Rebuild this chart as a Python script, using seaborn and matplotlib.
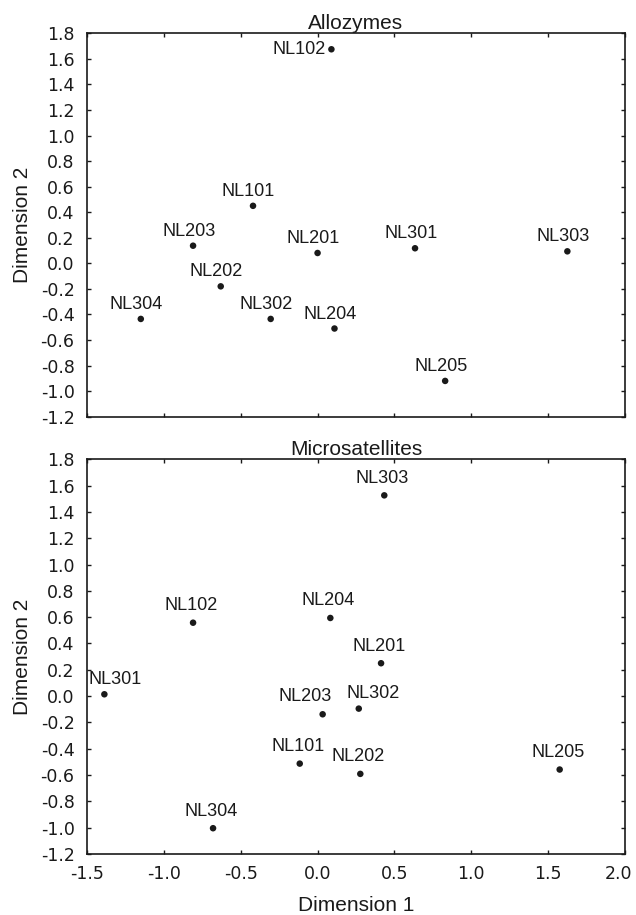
import matplotlib
matplotlib.use("Agg")
import matplotlib.pyplot as plt
import matplotlib.transforms as mtransforms
import seaborn as sns
import pandas as pd

# ---- data ----
allo_labels = ["NL102", "NL101", "NL203", "NL202", "NL304", "NL302",
               "NL201", "NL204", "NL301", "NL303", "NL205"]
allo_dim1 = [0.09, -0.42, -0.81, -0.63, -1.15, -0.305, 0.0, 0.11, 0.634, 1.625, 0.83]
allo_dim2 = [1.675, 0.45, 0.138, -0.18, -0.435, -0.435, 0.081, -0.51, 0.118, 0.094, -0.92]

micro_labels = ["NL303", "NL204", "NL201", "NL102", "NL301", "NL304",
                "NL101", "NL203", "NL302", "NL202", "NL205"]
micro_dim1 = [0.434, 0.083, 0.413, -0.81, -1.387, -0.68, -0.116, 0.033, 0.268, 0.278, 1.575]
micro_dim2 = [1.526, 0.594, 0.25, 0.558, 0.014, -1.004, -0.513, -0.138, -0.095, -0.591, -0.558]

x_ticks = [-1.5, -1.0, -0.5, 0.0, 0.5, 1.0, 1.5, 2.0]
y_ticks = [-1.2, -1.0, -0.8, -0.6, -0.4, -0.2, 0.0, 0.2, 0.4, 0.6, 0.8, 1.0, 1.2, 1.4, 1.6, 1.8]
titles = ["Allozymes", "Microsatellites"]

# label placement (pixel offsets from point), default + exceptions
default_off = [(-4.4, 14.4), (-2.0, 17.0)]
special_off = [
    {"NL102": (-6, 0, "right")},
    {"NL301": (11, 14.3, "center"), "NL203": (-17.7, 17.6, "center"),
     "NL302": (14, 14.7, "center")},
]

sns.set_style("ticks")
plt.rcParams["font.family"] = ["Liberation Sans", "DejaVu Sans"]

fig = plt.figure(figsize=(6.36, 9.15), dpi=100)
W, H = 636, 915
L, R = 87, 625
ax1 = fig.add_axes([L / W, 1 - 416.7 / H, (R - L) / W, (416.7 - 33.3) / H])
ax2 = fig.add_axes([L / W, 1 - 854 / H, (R - L) / W, (854 - 459.3) / H])

dfs = [pd.DataFrame({"d1": allo_dim1, "d2": allo_dim2, "lab": allo_labels}),
       pd.DataFrame({"d1": micro_dim1, "d2": micro_dim2, "lab": micro_labels})]

ink = "#1a1a1a"
for i, (ax, df) in enumerate(zip([ax1, ax2], dfs)):
    sns.scatterplot(data=df, x="d1", y="d2", ax=ax, color=ink, s=22,
                    edgecolor="none", linewidth=0, zorder=3)
    for _, row in df.iterrows():
        if row.lab in special_off[i]:
            dx, dy, ha = special_off[i][row.lab]
        else:
            dx, dy = default_off[i]
            ha = "center"
        ax.annotate(row.lab, (row.d1, row.d2), xytext=(dx, dy),
                    textcoords="offset pixels", ha=ha, va="center",
                    fontsize=13, color=ink)
    ax.set_xlim(-1.5, 2.0)
    ax.set_ylim(-1.2, 1.8)
    ax.set_xticks(x_ticks)
    ax.set_yticks(y_ticks)
    ax.set_yticklabels([f"{v:.1f}" for v in y_ticks], fontsize=12.5,
                       family=["DejaVu Sans"])
    ax.tick_params(direction="in", length=3, width=1, top=True, right=True,
                   color=ink, labelcolor=ink, pad=9)
    for sp in ax.spines.values():
        sp.set_visible(True)
        sp.set_linewidth(1.2)
        sp.set_color(ink)
    ax.set_title(titles[i], fontsize=15, color=ink, pad=3)
    ax.set_ylabel("Dimension 2", fontsize=15, color=ink, labelpad=6)
    ax.set_xlabel("")

ax1.tick_params(labelbottom=False)
ax2.set_xticklabels([f"{v:.1f}" for v in x_ticks], fontsize=12.5,
                    family=["DejaVu Sans"])
ax2.tick_params(axis="x", pad=8)
ax2.set_xlabel("Dimension 1", fontsize=15, color=ink, labelpad=9)

# nudge the last x tick label left so it stays inside the figure
last = ax2.get_xticklabels()[-1]
last.set_transform(last.get_transform() +
                   mtransforms.ScaledTranslation(-7 / 100, 0, fig.dpi_scale_trans))

fig.savefig("out.png", dpi=100)
